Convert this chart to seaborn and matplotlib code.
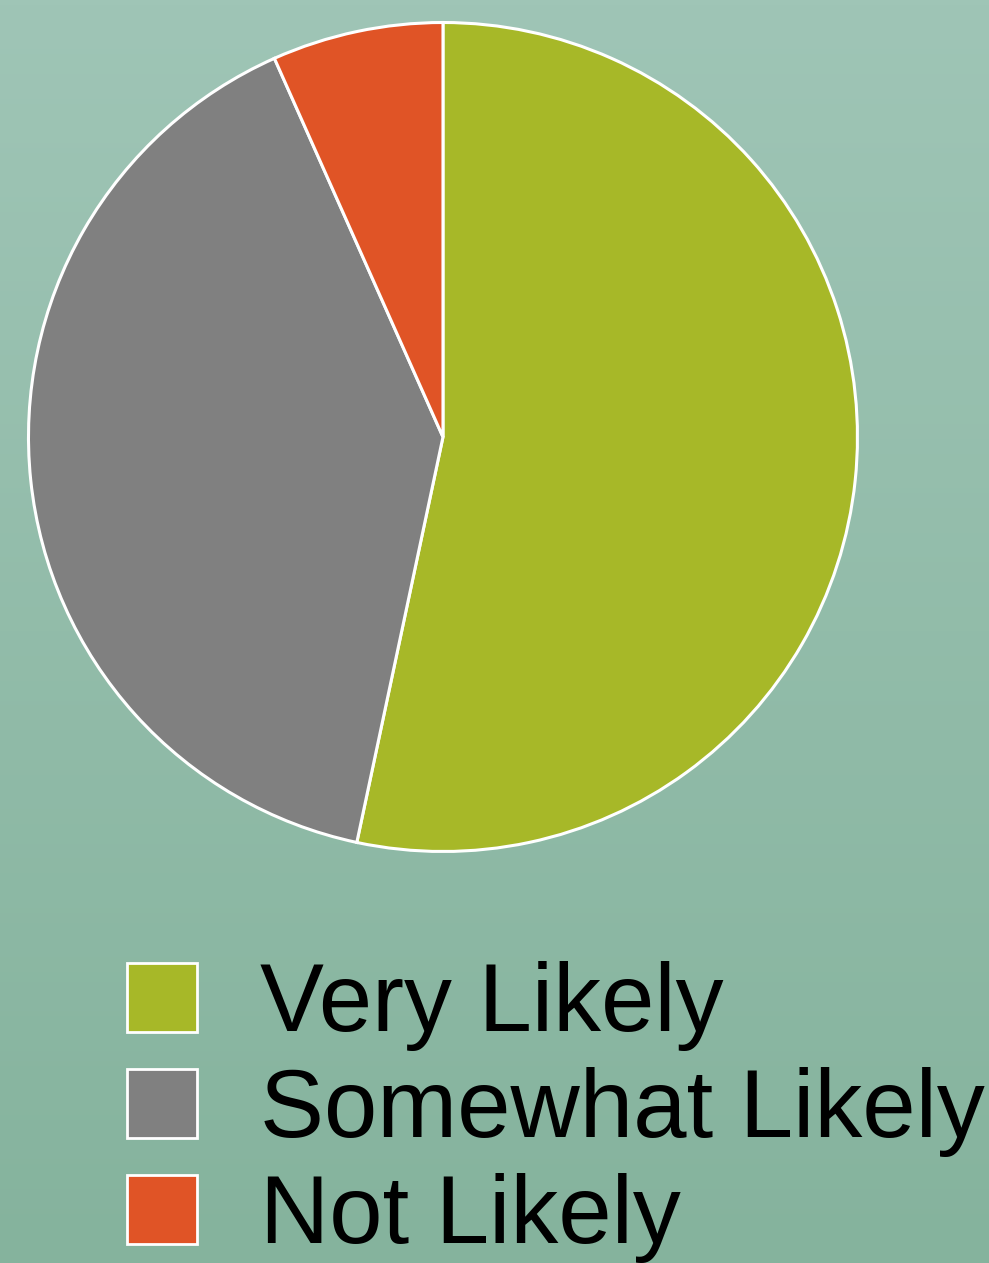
import numpy as np
import matplotlib
matplotlib.use("Agg")
import matplotlib.pyplot as plt
import matplotlib.patches as mpatches
import seaborn as sns

labels = ["Very Likely", "Somewhat Likely", "Not Likely"]
counts = [8, 6, 1]
colors = ["#A7B828", "#808080", "#E05426"]

sns.set_theme(style="white")
plt.rcParams['font.family'] = ['Liberation Sans', 'DejaVu Sans']
plt.rcParams['text.color'] = 'black'

fig = plt.figure(figsize=(9.89, 12.63), dpi=100)

# gradient background
bg = fig.add_axes([0, 0, 1, 1], zorder=0)
top = np.array([0x9F, 0xC5, 0xB6]) / 255
bot = np.array([0x85, 0xB3, 0x9D]) / 255
t = np.linspace(0, 1, 256)[:, None]
grad = (top * (1 - t) + bot * t)[:, None, :]
bg.imshow(grad, aspect='auto', extent=[0, 1, 0, 1])
bg.set_axis_off()

ax = fig.add_axes([0.0288, 0.3258, 0.8382, 0.6564], zorder=1)
ax.pie(counts, colors=colors, startangle=90, counterclock=False,
       wedgeprops=dict(edgecolor="white", linewidth=2.2))
ax.set_xlim(-1.0, 1.0)
ax.set_ylim(-1.0, 1.0)
ax.set_aspect('equal')
ax.set_axis_off()

handles = [mpatches.Patch(facecolor=c, edgecolor="white", linewidth=2) for c in colors]
leg = fig.legend(handles, labels, loc="upper left", bbox_to_anchor=(0.128, 0.2395),
                 frameon=False, fontsize=69, handlelength=0.73, handleheight=0.73,
                 handletextpad=0.66, labelspacing=0.17, borderpad=0, borderaxespad=0)
for txt in leg.get_texts():
    txt.set_color("black")

fig.savefig("out.png", dpi=100)
